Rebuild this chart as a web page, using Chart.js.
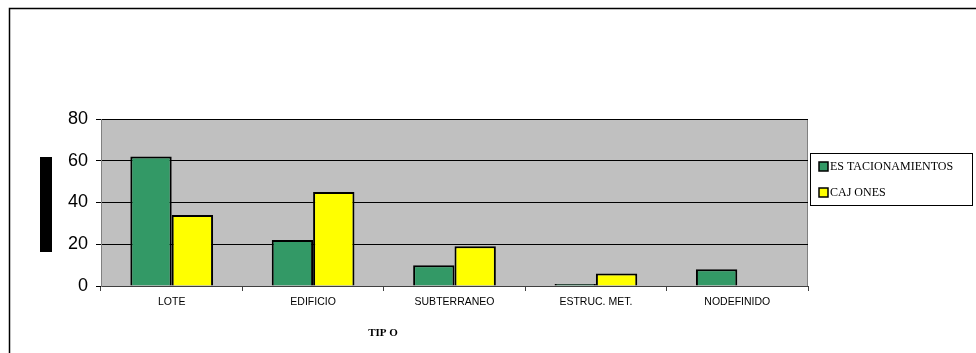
<!DOCTYPE html>
<html>
<head>
<meta charset="utf-8">
<title>Estacionamientos por tipo</title>
<script src="https://cdn.jsdelivr.net/npm/chart.js@4"></script>
<style>
  html, body { margin: 0; padding: 0; background: #fff; }
  #wrap { position: relative; width: 976px; height: 353px; }
</style>
</head>
<body>
<div id="wrap"><canvas id="chart" width="976" height="353"></canvas></div>
<script>
// categories and series
const tipos = ['LOTE', 'EDIFICIO', 'SUBTERRANEO', 'ESTRUC. MET.', 'NODEFINIDO'];
const estacionamientos = [62, 22, 10, 1, 8];
const cajones = [34, 45, 19, 6, 0];
const yTicks = [0, 20, 40, 60, 80];

const serieNames = ['ES TACIONAMIENTOS', 'CAJ ONES'];
const serieColors = ['#339966', '#ffff00'];

// sheet frame, plot background, side block, axis title and legend box
const decor = {
  id: 'decor',
  beforeDraw(chart){
    const ctx = chart.ctx;
    const a = chart.chartArea;
    ctx.save();
    ctx.fillStyle = '#fff';
    ctx.fillRect(0, 0, chart.width, chart.height);
    // frame (top + left only)
    ctx.strokeStyle = '#000';
    ctx.lineWidth = 1.5;
    ctx.beginPath();
    ctx.moveTo(9.5, chart.height);
    ctx.lineTo(9.5, 8.5);
    ctx.lineTo(chart.width, 8.5);
    ctx.stroke();
    // plot area
    ctx.fillStyle = '#c0c0c0';
    ctx.fillRect(a.left, a.top, a.right - a.left, a.bottom - a.top);
    ctx.strokeStyle = '#808080';
    ctx.lineWidth = 1;
    ctx.strokeRect(a.left + 0.5, a.top + 0.5, a.right - a.left - 1, a.bottom - a.top);
    // solid block next to the y axis
    ctx.fillStyle = '#000';
    ctx.fillRect(40, 157, 12, 95);
    ctx.restore();
  },
  afterDraw(chart){
    const ctx = chart.ctx;
    ctx.save();
    // axis title
    ctx.fillStyle = '#000';
    ctx.font = 'bold 11px "Liberation Serif", "Times New Roman", serif';
    ctx.textAlign = 'center';
    ctx.textBaseline = 'middle';
    ctx.fillText('TIP O', 383, 333);
    // legend
    const lx = 810.5, ly = 153.5, lw = 162, lh = 52;
    ctx.fillStyle = '#fff';
    ctx.fillRect(lx, ly, lw, lh);
    ctx.strokeStyle = '#000';
    ctx.lineWidth = 1;
    ctx.strokeRect(lx, ly, lw, lh);
    ctx.font = '12px "Liberation Serif", "Times New Roman", serif';
    ctx.textAlign = 'left';
    chart.data.datasets.forEach((ds, i) => {
      const y = 167 + i * 26;
      ctx.fillStyle = ds.backgroundColor;
      ctx.fillRect(819, y - 5, 9, 9);
      ctx.strokeStyle = '#000';
      ctx.lineWidth = 1.5;
      ctx.strokeRect(819, y - 5, 9, 9);
      ctx.fillStyle = '#000';
      ctx.fillText(ds.label, 830, y);
    });
    ctx.restore();
  }
};

new Chart(document.getElementById('chart'), {
  type: 'bar',
  data: {
    labels: tipos,
    datasets: [
      { label: serieNames[0], data: estacionamientos, backgroundColor: serieColors[0],
        borderColor: '#000', borderWidth: 2, borderSkipped: 'bottom' },
      { label: serieNames[1], data: cajones, backgroundColor: serieColors[1],
        borderColor: '#000', borderWidth: 2, borderSkipped: 'bottom' }
    ]
  },
  options: {
    responsive: false,
    animation: false,
    devicePixelRatio: 1,
    layout: { padding: { top: 119, right: 168, bottom: 0, left: 0 } },
    datasets: { bar: { categoryPercentage: 0.585, barPercentage: 1 } },
    plugins: { legend: { display: false }, tooltip: { enabled: false } },
    scales: {
      x: {
        offset: true,
        grid: { offset: true, drawOnChartArea: false, tickLength: 5, color: '#404040' },
        border: { color: '#404040' },
        ticks: { color: '#000', padding: 5, maxRotation: 0,
          font: { family: '"Liberation Sans", Arial, sans-serif', size: 10.5 } },
        afterFit(s){ s.height = 67; }
      },
      y: {
        min: 0, max: 80,
        afterBuildTicks(s){ s.ticks = yTicks.map(v => ({ value: v })); },
        grid: { color: '#000', tickLength: 5, lineWidth: 1 },
        border: { color: '#808080' },
        ticks: { color: '#000', padding: 8,
          font: { family: '"Liberation Sans", Arial, sans-serif', size: 18 } },
        afterFit(s){ s.width = 101; }
      }
    }
  },
  plugins: [decor]
});
</script>
</body>
</html>
